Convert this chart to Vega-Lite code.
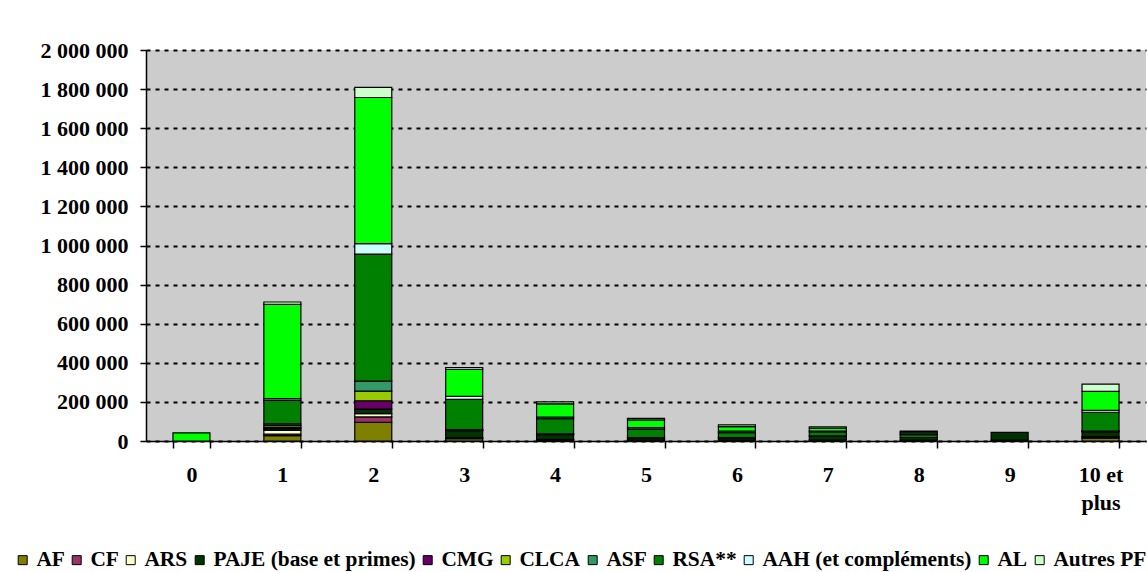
{
  "$schema": "https://vega.github.io/schema/vega-lite/v6.json",
  "width": 1000,
  "height": 391,
  "autosize": {"type": "none"},
  "padding": {"left": 146, "top": 50, "right": 2, "bottom": 131},
  "background": "white",
  "config": {"view": {"fill": "#cccccc", "stroke": null}, "font": "Liberation Serif"},
  "data": {"values": [
    {"x": "0", "serie": "AL", "s": 10, "v": 42000},
    {"x": "1", "serie": "AF", "s": 1, "v": 27000},
    {"x": "1", "serie": "CF", "s": 2, "v": 8000},
    {"x": "1", "serie": "ARS", "s": 3, "v": 19000},
    {"x": "1", "serie": "PAJE (base et primes)", "s": 4, "v": 9000},
    {"x": "1", "serie": "CMG", "s": 5, "v": 5000},
    {"x": "1", "serie": "CLCA", "s": 6, "v": 11000},
    {"x": "1", "serie": "ASF", "s": 7, "v": 9000},
    {"x": "1", "serie": "RSA**", "s": 8, "v": 120000},
    {"x": "1", "serie": "AAH (et compléments)", "s": 9, "v": 9000},
    {"x": "1", "serie": "AL", "s": 10, "v": 482000},
    {"x": "1", "serie": "Autres PF", "s": 11, "v": 12000},
    {"x": "2", "serie": "AF", "s": 1, "v": 96000},
    {"x": "2", "serie": "CF", "s": 2, "v": 27000},
    {"x": "2", "serie": "ARS", "s": 3, "v": 17000},
    {"x": "2", "serie": "PAJE (base et primes)", "s": 4, "v": 23000},
    {"x": "2", "serie": "CMG", "s": 5, "v": 43000},
    {"x": "2", "serie": "CLCA", "s": 6, "v": 49000},
    {"x": "2", "serie": "ASF", "s": 7, "v": 51000},
    {"x": "2", "serie": "RSA**", "s": 8, "v": 650000},
    {"x": "2", "serie": "AAH (et compléments)", "s": 9, "v": 54000},
    {"x": "2", "serie": "AL", "s": 10, "v": 747000},
    {"x": "2", "serie": "Autres PF", "s": 11, "v": 52000},
    {"x": "3", "serie": "AF", "s": 1, "v": 12000},
    {"x": "3", "serie": "CF", "s": 2, "v": 3000},
    {"x": "3", "serie": "ARS", "s": 3, "v": 2000},
    {"x": "3", "serie": "PAJE (base et primes)", "s": 4, "v": 36000},
    {"x": "3", "serie": "CMG", "s": 5, "v": 2000},
    {"x": "3", "serie": "CLCA", "s": 6, "v": 2000},
    {"x": "3", "serie": "ASF", "s": 7, "v": 1000},
    {"x": "3", "serie": "RSA**", "s": 8, "v": 155000},
    {"x": "3", "serie": "AAH (et compléments)", "s": 9, "v": 15000},
    {"x": "3", "serie": "AL", "s": 10, "v": 138000},
    {"x": "3", "serie": "Autres PF", "s": 11, "v": 10000},
    {"x": "4", "serie": "AF", "s": 1, "v": 4000},
    {"x": "4", "serie": "CF", "s": 2, "v": 3000},
    {"x": "4", "serie": "ARS", "s": 3, "v": 1000},
    {"x": "4", "serie": "PAJE (base et primes)", "s": 4, "v": 25000},
    {"x": "4", "serie": "CMG", "s": 5, "v": 1000},
    {"x": "4", "serie": "CLCA", "s": 6, "v": 1000},
    {"x": "4", "serie": "ASF", "s": 7, "v": 1000},
    {"x": "4", "serie": "RSA**", "s": 8, "v": 78000},
    {"x": "4", "serie": "AAH (et compléments)", "s": 9, "v": 8000},
    {"x": "4", "serie": "AL", "s": 10, "v": 68000},
    {"x": "4", "serie": "Autres PF", "s": 11, "v": 10000},
    {"x": "5", "serie": "AF", "s": 1, "v": 2000},
    {"x": "5", "serie": "CF", "s": 2, "v": 2000},
    {"x": "5", "serie": "ARS", "s": 3, "v": 1000},
    {"x": "5", "serie": "PAJE (base et primes)", "s": 4, "v": 11000},
    {"x": "5", "serie": "CMG", "s": 5, "v": 1000},
    {"x": "5", "serie": "RSA**", "s": 8, "v": 44000},
    {"x": "5", "serie": "AAH (et compléments)", "s": 9, "v": 7000},
    {"x": "5", "serie": "AL", "s": 10, "v": 40000},
    {"x": "5", "serie": "Autres PF", "s": 11, "v": 8000},
    {"x": "6", "serie": "AF", "s": 1, "v": 2000},
    {"x": "6", "serie": "CF", "s": 2, "v": 2000},
    {"x": "6", "serie": "PAJE (base et primes)", "s": 4, "v": 12000},
    {"x": "6", "serie": "CMG", "s": 5, "v": 1000},
    {"x": "6", "serie": "RSA**", "s": 8, "v": 26000},
    {"x": "6", "serie": "AAH (et compléments)", "s": 9, "v": 7000},
    {"x": "6", "serie": "AL", "s": 10, "v": 24000},
    {"x": "6", "serie": "Autres PF", "s": 11, "v": 8000},
    {"x": "7", "serie": "AF", "s": 1, "v": 2000},
    {"x": "7", "serie": "CF", "s": 2, "v": 2000},
    {"x": "7", "serie": "ARS", "s": 3, "v": 1000},
    {"x": "7", "serie": "PAJE (base et primes)", "s": 4, "v": 20000},
    {"x": "7", "serie": "CMG", "s": 5, "v": 1000},
    {"x": "7", "serie": "RSA**", "s": 8, "v": 19000},
    {"x": "7", "serie": "AAH (et compléments)", "s": 9, "v": 6000},
    {"x": "7", "serie": "AL", "s": 10, "v": 15000},
    {"x": "7", "serie": "Autres PF", "s": 11, "v": 7000},
    {"x": "8", "serie": "AF", "s": 1, "v": 2000},
    {"x": "8", "serie": "CF", "s": 2, "v": 2000},
    {"x": "8", "serie": "PAJE (base et primes)", "s": 4, "v": 14000},
    {"x": "8", "serie": "RSA**", "s": 8, "v": 14000},
    {"x": "8", "serie": "AAH (et compléments)", "s": 9, "v": 5000},
    {"x": "8", "serie": "AL", "s": 10, "v": 8000},
    {"x": "8", "serie": "Autres PF", "s": 11, "v": 6000},
    {"x": "9", "serie": "AF", "s": 1, "v": 2000},
    {"x": "9", "serie": "CF", "s": 2, "v": 2000},
    {"x": "9", "serie": "PAJE (base et primes)", "s": 4, "v": 40000},
    {"x": "10 et plus", "serie": "AF", "s": 1, "v": 14000},
    {"x": "10 et plus", "serie": "CF", "s": 2, "v": 5000},
    {"x": "10 et plus", "serie": "ARS", "s": 3, "v": 3000},
    {"x": "10 et plus", "serie": "PAJE (base et primes)", "s": 4, "v": 25000},
    {"x": "10 et plus", "serie": "CMG", "s": 5, "v": 2000},
    {"x": "10 et plus", "serie": "CLCA", "s": 6, "v": 1000},
    {"x": "10 et plus", "serie": "ASF", "s": 7, "v": 1000},
    {"x": "10 et plus", "serie": "RSA**", "s": 8, "v": 96000},
    {"x": "10 et plus", "serie": "AAH (et compléments)", "s": 9, "v": 10000},
    {"x": "10 et plus", "serie": "AL", "s": 10, "v": 97000},
    {"x": "10 et plus", "serie": "Autres PF", "s": 11, "v": 37000}
  ]},
  "mark": {"type": "bar", "stroke": "black", "strokeWidth": 1.2},
  "encoding": {
    "x": {
      "field": "x", "type": "ordinal",
      "sort": ["0", "1", "2", "3", "4", "5", "6", "7", "8", "9", "10 et plus"],
      "scale": {"paddingInner": 0.593, "paddingOuter": 0.2965},
      "axis": {
        "title": null, "labelAngle": 0,
        "labelFont": "Liberation Serif", "labelFontWeight": "bold", "labelFontSize": 22, "labelColor": "black",
        "labelPadding": 16, "labelLineHeight": 28,
        "labelExpr": "datum.value == '10 et plus' ? ['10 et', 'plus'] : datum.label",
        "tickBand": "extent", "tickColor": "black", "tickSize": 7, "tickWidth": 1.5,
        "domainColor": "black", "domainWidth": 1.5
      }
    },
    "y": {
      "field": "v", "type": "quantitative", "stack": "zero",
      "scale": {"domain": [0, 2000000], "nice": false},
      "axis": {
        "title": null,
        "values": [0, 200000, 400000, 600000, 800000, 1000000, 1200000, 1400000, 1600000, 1800000, 2000000],
        "labelExpr": "replace(format(datum.value, ','), regexp(',', 'g'), ' ')",
        "labelFont": "Liberation Serif", "labelFontWeight": "bold", "labelFontSize": 22, "labelColor": "black",
        "labelPadding": 12, "tickSize": 6, "tickColor": "black", "tickWidth": 1.5,
        "domainColor": "black", "domainWidth": 1.5,
        "grid": true, "gridColor": "black", "gridDash": [4, 5], "gridWidth": 2
      }
    },
    "color": {
      "field": "serie", "type": "nominal",
      "scale": {
        "domain": ["AF", "CF", "ARS", "PAJE (base et primes)", "CMG", "CLCA", "ASF", "RSA**", "AAH (et compléments)", "AL", "Autres PF"],
        "range": ["#808000", "#993366", "#FFFFCC", "#003300", "#660066", "#99CC00", "#339966", "#008000", "#CCFFFF", "#00FF00", "#CCFFCC"]
      },
      "legend": {
        "title": null, "orient": "none", "legendX": -134, "legendY": 499,
        "direction": "horizontal", "columns": 11, "padding": 0,
        "symbolType": "square", "symbolSize": 81, "symbolStrokeColor": "black", "symbolStrokeWidth": 1, "symbolOpacity": 1,
        "labelFont": "Liberation Serif", "labelFontWeight": "bold", "labelFontSize": 21.4, "labelColor": "black",
        "labelOffset": 3, "columnPadding": 1, "labelLimit": 400
      }
    },
    "order": {"field": "s", "type": "quantitative", "sort": "ascending"}
  }
}
